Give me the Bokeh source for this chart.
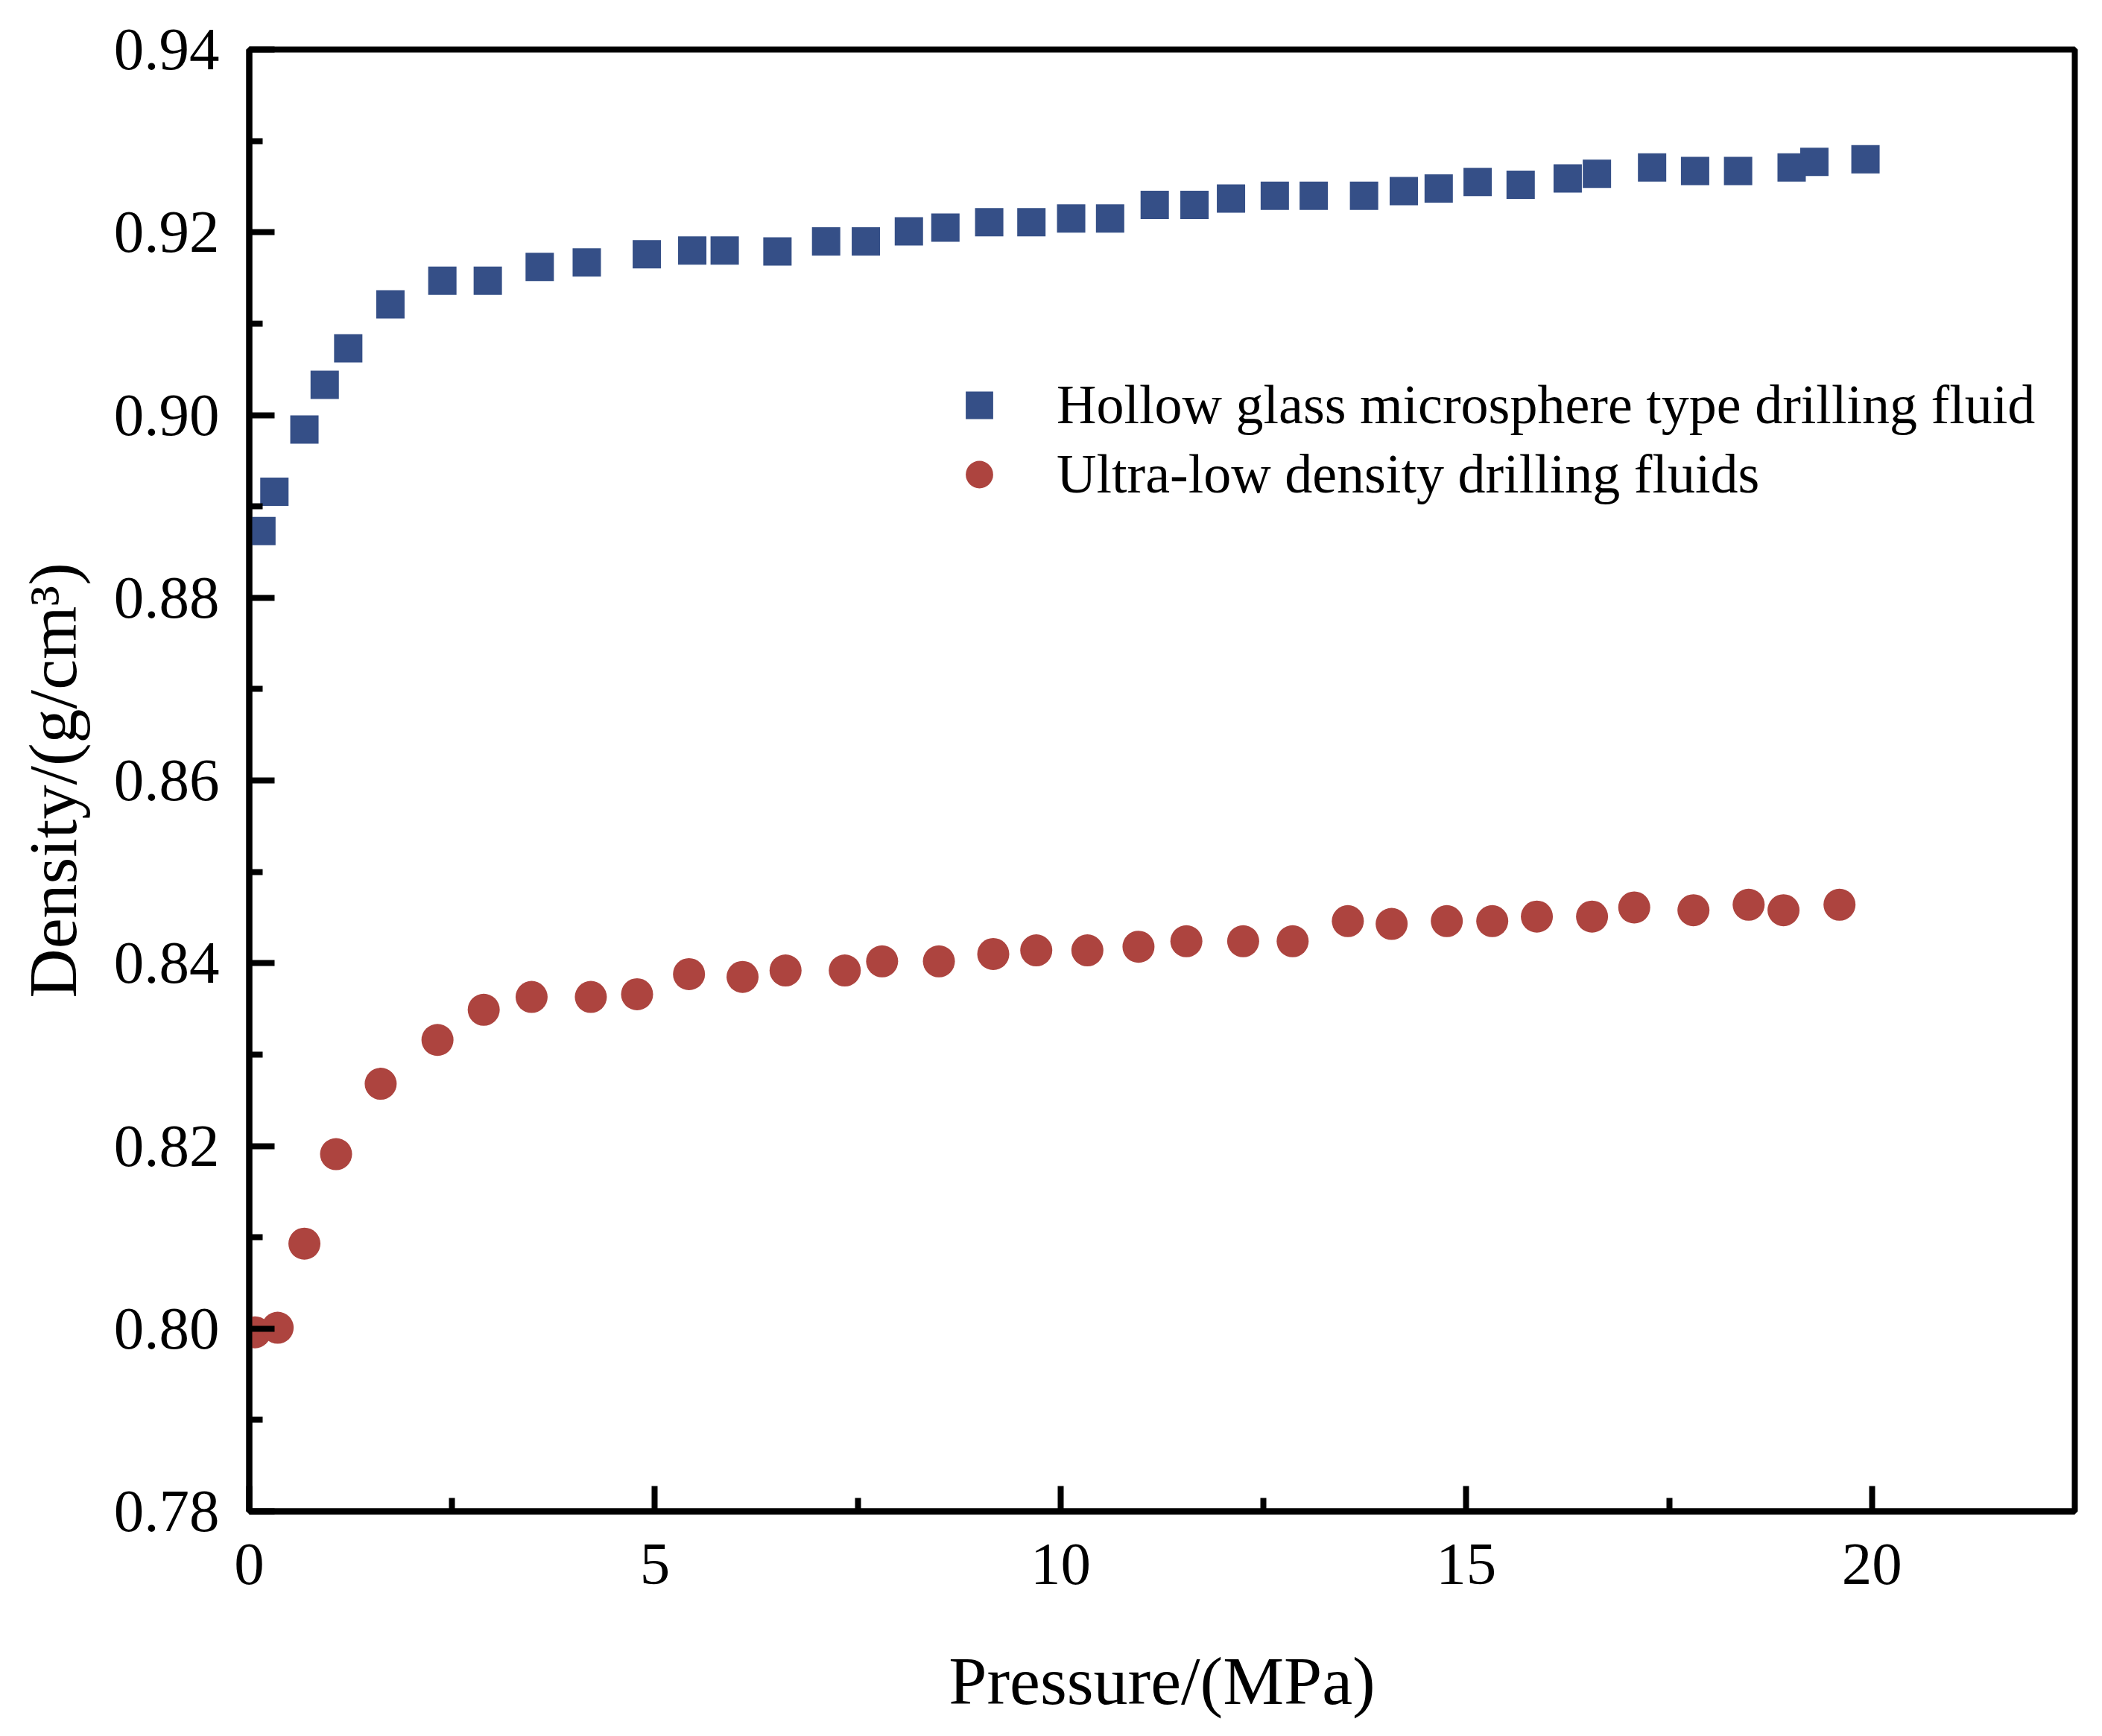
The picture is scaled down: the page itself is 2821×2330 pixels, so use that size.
from bokeh.embed import file_html
from bokeh.models import FixedTicker, Legend, LegendItem, Range1d
from bokeh.plotting import figure
from bokeh.resources import INLINE

# Hollow glass microsphere type drilling fluid
pressure_hgm = [0.15, 0.31, 0.68, 0.93, 1.22, 1.74, 2.38, 2.94, 3.58, 4.16, 4.90,
                5.46, 5.86, 6.51, 7.11, 7.60, 8.13, 8.58, 9.12, 9.64, 10.13, 10.61,
                11.16, 11.65, 12.10, 12.64, 13.12, 13.74, 14.23, 14.66, 15.14,
                15.67, 16.25, 16.61, 17.29, 17.82, 18.35, 19.01, 19.29, 19.92]
density_hgm = [0.8873, 0.8916, 0.8984, 0.9033, 0.9073, 0.9121, 0.9147, 0.9147,
               0.9162, 0.9167, 0.9176, 0.9180, 0.9180, 0.9179, 0.9190, 0.9190,
               0.9201, 0.9205, 0.9211, 0.9211, 0.9215, 0.9215, 0.9230, 0.9230,
               0.9237, 0.9240, 0.9240, 0.9240, 0.9245, 0.9248, 0.9255, 0.9252,
               0.9259, 0.9264, 0.9271, 0.9267, 0.9267, 0.9271, 0.9277, 0.9280]

# Ultra-low density drilling fluids
pressure_uld = [0.07, 0.35, 0.68, 1.07, 1.62, 2.32, 2.89, 3.48, 4.21, 4.78, 5.42,
                6.08, 6.61, 7.34, 7.80, 8.50, 9.17, 9.70, 10.33, 10.96, 11.55,
                12.25, 12.86, 13.54, 14.08, 14.76, 15.32, 15.87, 16.55, 17.07,
                17.80, 18.48, 18.91, 19.60]
density_uld = [0.7996, 0.8001, 0.8093, 0.8191, 0.8268, 0.8316, 0.8349, 0.8363,
               0.8363, 0.8366, 0.8388, 0.8385, 0.8392, 0.8392, 0.8402, 0.8402,
               0.8410, 0.8414, 0.8414, 0.8418, 0.8424, 0.8424, 0.8424, 0.8446,
               0.8443, 0.8446, 0.8446, 0.8451, 0.8451, 0.8461, 0.8458, 0.8464,
               0.8458, 0.8464]

x_major = [0, 5, 10, 15, 20]
x_minor = [2.5, 7.5, 12.5, 17.5]
y_major = [0.78, 0.80, 0.82, 0.84, 0.86, 0.88, 0.90, 0.92, 0.94]
y_minor = [0.79, 0.81, 0.83, 0.85, 0.87, 0.89, 0.91, 0.93]

label_hgm = "Hollow glass microsphere type drilling fluid"
label_uld = "Ultra-low density drilling fluids"

BLUE = "#354F87"
RED = "#AD443F"
FONT = "Liberation Serif"

p = figure(
    width=2800,
    height=2310,
    output_backend="svg",
    toolbar_location=None,
    x_range=Range1d(0, 22.5),
    y_range=Range1d(0.78, 0.94),
    min_border_left=334,
    min_border_right=16,
    min_border_top=66,
    min_border_bottom=282,
)
p.grid.visible = False
p.outline_line_color = "black"
p.outline_line_width = 8
p.outline_line_alpha = 1

r_hgm = p.scatter(pressure_hgm, density_hgm, marker="square", size=38,
                  fill_color=BLUE, line_color=None)
r_uld = p.scatter(pressure_uld, density_uld, marker="circle", size=43,
                  fill_color=RED, line_color=None)

p.xaxis.ticker = FixedTicker(ticks=x_major, minor_ticks=x_minor)
p.yaxis.ticker = FixedTicker(ticks=y_major, minor_ticks=y_minor)
p.xaxis.major_label_overrides = {v: str(v) for v in x_major}
p.yaxis.major_label_overrides = {v: "%.2f" % v for v in y_major}

for ax in (p.xaxis, p.yaxis):
    ax.axis_line_width = 8
    ax.axis_line_color = "black"
    ax.major_tick_line_width = 8
    ax.minor_tick_line_width = 8
    ax.major_tick_in = 34
    ax.major_tick_out = 0
    ax.minor_tick_in = 18
    ax.minor_tick_out = 0
    ax.major_label_text_font = FONT
    ax.major_label_text_font_size = "81px"
    ax.major_label_text_color = "black"
    ax.axis_label_text_font = FONT
    ax.axis_label_text_font_size = "92px"
    ax.axis_label_text_font_style = "normal"
    ax.axis_label_text_color = "black"

p.xaxis.axis_label = "Pressure/(MPa)"
p.yaxis.axis_label = "Density/(g/cm³)"
p.xaxis.major_label_standoff = 44
p.yaxis.major_label_standoff = 40
p.xaxis.axis_label_standoff = 76
p.yaxis.axis_label_standoff = 28

legend = Legend(
    items=[LegendItem(label=label_hgm, renderers=[r_hgm]),
           LegendItem(label=label_uld, renderers=[r_uld])],
    location=(934, 1345),
    border_line_color=None,
    background_fill_alpha=0,
    padding=0,
    margin=0,
    spacing=0,
    glyph_width=92,
    glyph_height=93,
    label_height=93,
    label_standoff=58,
    label_text_font=FONT,
    label_text_font_size="74px",
    label_text_color="black",
)
p.add_layout(legend)

open("out.html", "w").write(file_html(p, INLINE))
